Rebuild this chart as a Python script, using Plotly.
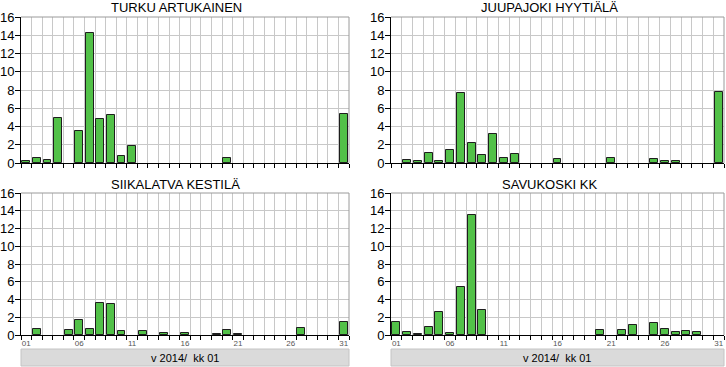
import plotly.graph_objects as go

days = list(range(1, 32))
day_labels = ["01", "06", "11", "16", "21", "26", "31"]
day_label_pos = [1, 6, 11, 16, 21, 26, 31]

titles = ["TURKU ARTUKAINEN", "JUUPAJOKI HYYTIÄLÄ", "SIIKALATVA KESTILÄ", "SAVUKOSKI KK"]
x_title = "v 2014/  kk 01"

# daily values (None = no bar drawn)
turku = [0.2, 0.5, 0.3, 4.9, None, 3.5, 14.2, 4.8, 5.3, 0.8,
         1.9, None, None, None, None, None, None, None, None, 0.5,
         None, None, None, None, None, None, None, None, None, None, 5.4]
juupajoki = [None, 0.3, 0.2, 1.1, 0.2, 1.4, 7.7, 2.2, 0.9, 3.2,
             0.5, 1.0, None, None, None, 0.4, None, None, None, None,
             0.6, None, None, None, 0.4, 0.2, 0.2, None, None, None, 7.8]
siikalatva = [None, 0.7, None, None, 0.6, 1.7, 0.7, 3.6, 3.5, 0.5,
              None, 0.5, None, 0.2, None, 0.2, None, None, 0.1, 0.6,
              0.1, None, None, None, None, None, 0.8, None, None, None, 1.5]
savukoski = [1.5, 0.3, 0.1, 0.9, 2.6, 0.2, 5.4, 13.5, 2.8, None,
             None, None, None, None, None, None, None, None, None, 0.6,
             None, 0.6, 1.1, None, 1.3, 0.7, 0.3, 0.5, 0.3, None, None]

series = [turku, juupajoki, siikalatva, savukoski]

W, H = 726, 367
FONT = "Liberation Sans, Arial, sans-serif"

def px_x(p):
    return p / W

def px_y(p):
    return 1 - p / H

xdoms = [[px_x(21), px_x(349)], [px_x(391), px_x(724)]]
ydoms = [[px_y(163), px_y(17)], [px_y(335), px_y(193)]]

panels = [(0, 0), (1, 0), (0, 1), (1, 1)]
title_cx = [176, 549, 175, 549]
title_cy = [8, 8, 184, 184]

fig = go.Figure()
layout = dict(
    width=W, height=H,
    autosize=False,
    margin=dict(l=0, r=0, t=0, b=0, pad=0),
    paper_bgcolor="white", plot_bgcolor="white",
    showlegend=False,
    font=dict(family=FONT, color="black", size=13),
    bargap=0,
)
shapes = []
annotations = []

for i, (vals, (c, r)) in enumerate(zip(series, panels)):
    n = "" if i == 0 else str(i + 1)
    fig.add_trace(go.Bar(
        x=days, y=vals, width=0.74,
        marker=dict(color="#52c148", line=dict(color="#1e1e1e", width=1)),
        xaxis="x" + n, yaxis="y" + n,
        hoverinfo="x+y",
    ))
    layout["xaxis" + n] = dict(
        domain=xdoms[c], anchor="y" + n, range=[0.5, 31.5],
        automargin=False,
        tickmode="array", tickvals=day_label_pos, ticktext=day_labels,
        showticklabels=(r == 1), ticks="", showgrid=False, zeroline=False,
        ticklabeloverflow="allow",
        tickfont=dict(size=8, color="#555555"),
        showline=True, linecolor="black", linewidth=1,
        minor=dict(tickmode="linear", tick0=0.5, dtick=1, ticks="outside",
                   ticklen=4, tickcolor="black", tickwidth=1,
                   showgrid=True, gridcolor="#c8c8c8", gridwidth=1),
        fixedrange=True,
    )
    layout["yaxis" + n] = dict(
        domain=ydoms[r], anchor="x" + n, range=[0, 16], dtick=2, tick0=0,
        automargin=False,
        ticks="outside", ticklen=5, tickcolor="black",
        ticklabelstandoff=-2,
        showgrid=True, gridcolor="#c8c8c8", gridwidth=1, zeroline=False,
        showline=True, linecolor="black", linewidth=1,
        ticklabeloverflow="allow",
        tickfont=dict(size=13, color="black"),
        fixedrange=True,
    )
    x0, x1 = xdoms[c]
    y0, y1 = ydoms[r]
    shapes.append(dict(type="line", xref="paper", yref="paper",
                       x0=x0, x1=x1, y0=y1, y1=y1,
                       line=dict(color="#9a9a9a", width=1)))
    shapes.append(dict(type="line", xref="paper", yref="paper",
                       x0=x1, x1=x1, y0=y0, y1=y1,
                       line=dict(color="#9a9a9a", width=1)))
    annotations.append(dict(text=titles[i], xref="paper", yref="paper",
                            x=px_x(title_cx[i]), y=px_y(title_cy[i]),
                            xanchor="center", yanchor="middle", showarrow=False,
                            font=dict(size=13, color="black", family=FONT)))

for c in range(2):
    x0, x1 = xdoms[c]
    shapes.append(dict(type="rect", xref="paper", yref="paper",
                       x0=x0, x1=x1, y0=px_y(366), y1=px_y(349),
                       fillcolor="#dadada", line=dict(color="#c4c4c4", width=1),
                       layer="below"))
    annotations.append(dict(text=x_title, xref="paper", yref="paper",
                            x=(x0 + x1) / 2, y=px_y(357.5),
                            xanchor="center", yanchor="middle", showarrow=False,
                            font=dict(size=11, color="black", family=FONT)))

layout["shapes"] = shapes
layout["annotations"] = annotations
fig.update_layout(**layout)
fig.write_html("out.html", config={"displayModeBar": False},
               post_script="document.body.style.margin='0';document.body.style.overflow='hidden';")
